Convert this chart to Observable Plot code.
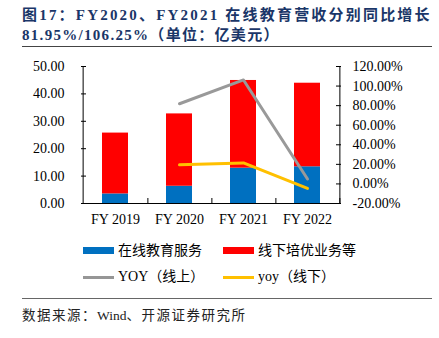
<!DOCTYPE html>
<html><head><meta charset="utf-8">
<script src="https://cdn.jsdelivr.net/npm/d3@7"></script>
<script src="https://cdn.jsdelivr.net/npm/@observablehq/plot@0.6"></script>
<style>
body{margin:0;background:#fff;}
#wrap{position:relative;width:439px;height:338px;overflow:hidden;font-family:"Liberation Serif","Noto Sans CJK SC",serif;}
.t{position:absolute;left:22px;font-weight:bold;color:#1a3668;font-size:15px;white-space:nowrap;line-height:18px;}
.rule{position:absolute;left:22px;width:410px;height:0;border-top:1.5px solid #444;}
.leg{position:absolute;font-size:14px;white-space:nowrap;line-height:16px;color:#000;}
.sw{position:absolute;}
#src{position:absolute;left:22px;top:304px;font-size:13.5px;color:#222;white-space:nowrap;}
.cj{letter-spacing:1.5px;}
#chart{position:absolute;left:0;top:56px;}
</style></head>
<body><div id="wrap">
<div class="t" style="top:6px;letter-spacing:2.2px">图17：FY2020、FY2021 在线教育营收分别同比增长</div>
<div class="t" style="top:26px;letter-spacing:1.3px">81.95%/106.25%（单位：亿美元）</div>
<div class="rule" style="top:46px"></div>
<div id="chart"></div>
<div class="sw" style="left:83px;top:247px;width:31px;height:7px;background:#0070C0"></div>
<div class="leg" style="left:118px;top:243px">在线教育服务</div>
<div class="sw" style="left:223px;top:247px;width:31px;height:7px;background:#FF0000"></div>
<div class="leg" style="left:258px;top:243px">线下培优业务等</div>
<div class="sw" style="left:83px;top:276px;width:31px;height:3px;background:#969696"></div>
<div class="leg" style="left:118px;top:269px">YOY（线上）</div>
<div class="sw" style="left:223px;top:276px;width:31px;height:3px;background:#FFC000"></div>
<div class="leg" style="left:258px;top:269px">yoy（线下）</div>
<div class="rule" style="top:298px;border-top-color:#666"></div>
<div id="src"><span class="cj">数据来源：</span>Wind<span class="cj">、开源证券研究所</span></div>
</div>
<script>
const years = ["FY 2019", "FY 2020", "FY 2021", "FY 2022"];
const online = [3.5, 6.3, 12.9, 13.4];
const offline = [22.2, 26.4, 32.0, 30.5];
const yoyOnline = [null, 81.95, 106.25, 5.0];
const yoyOffline = [null, 19.5, 21.5, -4.5];
const leftTicks = [0, 10, 20, 30, 40, 50];
const rightTicks = [-20, 0, 20, 40, 60, 80, 100, 120];

const toLeft = p => (p + 20) * 50 / 140;
const barData = [];
years.forEach((y, i) => {
  barData.push({year: y, series: "online", value: online[i]});
  barData.push({year: y, series: "offline", value: offline[i]});
});
const grayData = years.map((y, i) => ({year: y, v: yoyOnline[i]})).filter(d => d.v != null);
const yellowData = years.map((y, i) => ({year: y, v: yoyOffline[i]})).filter(d => d.v != null);

const W = 439, ML = 81, MR = 99;
const step = (W - ML - MR) / years.length;

const chart = Plot.plot({
  width: W, height: 175,
  marginLeft: ML, marginRight: MR, marginTop: 10, marginBottom: 28,
  style: {fontFamily: "'Liberation Serif', serif", fontSize: "14px", color: "#000", background: "transparent", overflow: "visible"},
  x: {domain: years, paddingInner: 0.6, paddingOuter: 0.3},
  y: {domain: [0, 50]},
  color: {domain: ["online", "offline"], range: ["#0070C0", "#FF0000"]},
  marks: [
    Plot.barY(barData, {x: "year", y: "value", fill: "series"}),
    Plot.line(grayData, {x: "year", y: d => toLeft(d.v), stroke: "#999999", strokeWidth: 3}),
    Plot.line(yellowData, {x: "year", y: d => toLeft(d.v), stroke: "#FFC000", strokeWidth: 3}),
    Plot.ruleY([0], {stroke: "#000"}),
    Plot.ruleX([years[0]], {y1: 0, y2: 50, dx: -step / 2, stroke: "#000"}),
    Plot.ruleX([years[3]], {y1: 0, y2: 50, dx: step / 2, stroke: "#000"}),
    Plot.axisY(leftTicks, {anchor: "left", label: null, tickSize: -5, tickPadding: 22, tickFormat: d => d.toFixed(2)}),
    Plot.axisY(rightTicks.map(toLeft), {anchor: "right", label: null, tickSize: -5, tickPadding: 17, tickFormat: d => (Math.round(d * 140 / 50 - 20)).toFixed(2) + "%"}),
    Plot.axisX({label: null, tickSize: 0, tickPadding: 11}),
    Plot.axisX({label: null, tickSize: -5, tickFormat: () => "", dx: step / 2})
  ]
});
document.getElementById("chart").appendChild(chart);
</script>
</body></html>
